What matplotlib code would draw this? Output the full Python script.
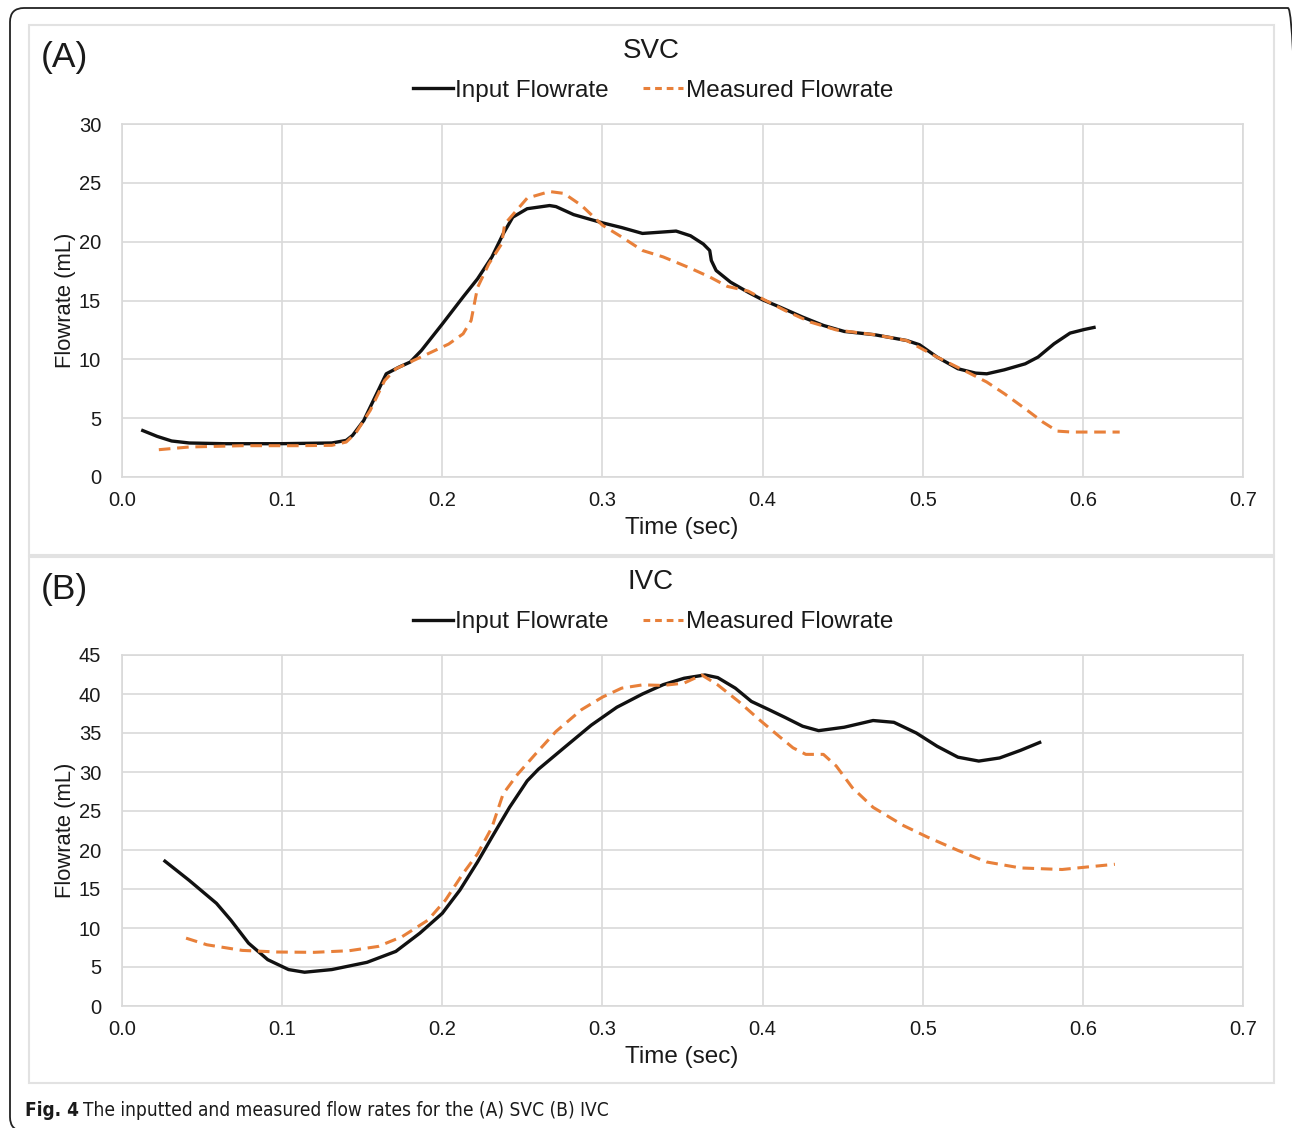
import matplotlib
matplotlib.use("Agg")
import matplotlib.pyplot as plt
from matplotlib.patches import FancyBboxPatch, Rectangle
from matplotlib.lines import Line2D
from matplotlib.transforms import IdentityTransform
from matplotlib import font_manager
from matplotlib.font_manager import FontProperties
import os

# ---------------- data ----------------
svc_input_t = [0.012, 0.022, 0.031, 0.042, 0.064, 0.098, 0.131, 0.140, 0.144, 0.151, 0.158, 0.165,
               0.173, 0.180, 0.187, 0.200, 0.213, 0.222, 0.231, 0.238, 0.244, 0.253, 0.267, 0.271,
               0.282, 0.300, 0.312, 0.325, 0.346, 0.355, 0.363, 0.367, 0.368, 0.371, 0.380, 0.391,
               0.400, 0.411, 0.425, 0.438, 0.451, 0.470, 0.490, 0.498, 0.509, 0.522, 0.533, 0.540,
               0.551, 0.564, 0.572, 0.582, 0.592, 0.601, 0.608]
svc_input_q = [4.0, 3.45, 3.06, 2.89, 2.83, 2.83, 2.89, 3.11, 3.54, 4.81, 6.79, 8.77,
               9.34, 9.77, 10.76, 13.0, 15.3, 16.84, 18.7, 20.66, 22.08, 22.8, 23.07, 22.98,
               22.3, 21.6, 21.2, 20.7, 20.9, 20.5, 19.8, 19.25, 18.4, 17.55, 16.56, 15.7,
               15.06, 14.43, 13.59, 12.88, 12.37, 12.09, 11.6, 11.24, 10.19, 9.2, 8.83, 8.77,
               9.11, 9.62, 10.19, 11.32, 12.23, 12.54, 12.74]

svc_meas_t = [0.023, 0.042, 0.075, 0.109, 0.131, 0.140, 0.146, 0.155, 0.164, 0.171, 0.180, 0.191,
              0.204, 0.213, 0.218, 0.222, 0.229, 0.237, 0.239, 0.246, 0.253, 0.267, 0.276, 0.287,
              0.300, 0.312, 0.325, 0.338, 0.354, 0.367, 0.378, 0.391, 0.400, 0.414, 0.430, 0.446,
              0.470, 0.490, 0.509, 0.530, 0.540, 0.551, 0.564, 0.575, 0.584, 0.593, 0.623]
svc_meas_q = [2.32, 2.55, 2.66, 2.66, 2.69, 2.97, 3.74, 5.66, 8.2, 9.2, 9.77, 10.47,
              11.3, 12.17, 13.3, 16.1, 18.1, 19.8, 21.5, 22.6, 23.7, 24.26, 24.1, 23.07,
              21.4, 20.4, 19.25, 18.7, 17.8, 17.0, 16.2, 15.8, 15.14, 14.15, 13.16, 12.5,
              12.09, 11.6, 10.19, 8.77, 8.07, 7.08, 5.8, 4.67, 3.9, 3.82, 3.82]

ivc_input_t = [0.026, 0.042, 0.059, 0.068, 0.079, 0.091, 0.104, 0.114, 0.131, 0.153, 0.171, 0.186,
               0.200, 0.211, 0.222, 0.231, 0.242, 0.253, 0.260, 0.276, 0.293, 0.309, 0.325, 0.338,
               0.351, 0.364, 0.372, 0.383, 0.393, 0.404, 0.414, 0.425, 0.435, 0.451, 0.469, 0.482,
               0.496, 0.509, 0.522, 0.535, 0.548, 0.561, 0.574]
ivc_input_q = [18.7, 16.1, 13.16, 11.0, 8.06, 5.94, 4.67, 4.33, 4.67, 5.6, 7.0, 9.34,
               11.88, 14.86, 18.46, 21.65, 25.47, 28.86, 30.35, 33.1, 36.0, 38.3, 40.0, 41.2,
               42.02, 42.44, 42.1, 40.75, 39.05, 37.99, 37.0, 35.87, 35.3, 35.74, 36.6, 36.37,
               35.0, 33.3, 31.9, 31.4, 31.8, 32.77, 33.87]

ivc_meas_t = [0.040, 0.053, 0.075, 0.097, 0.120, 0.142, 0.160, 0.175, 0.191, 0.202, 0.213, 0.222,
              0.231, 0.238, 0.247, 0.258, 0.271, 0.287, 0.300, 0.312, 0.325, 0.338, 0.351, 0.362,
              0.372, 0.385, 0.398, 0.409, 0.419, 0.427, 0.438, 0.446, 0.456, 0.469, 0.488, 0.503,
              0.522, 0.540, 0.561, 0.587, 0.603, 0.620]
ivc_meas_q = [8.7, 7.85, 7.13, 6.92, 6.88, 7.09, 7.64, 8.9, 11.0, 13.58, 17.0, 19.5,
              22.9, 27.2, 29.7, 32.26, 35.2, 38.0, 39.6, 40.75, 41.17, 41.1, 41.4, 42.44,
              41.17, 39.05, 36.7, 34.8, 33.1, 32.26, 32.26, 30.77, 28.0, 25.47, 23.13, 21.65,
              19.95, 18.46, 17.7, 17.5, 17.83, 18.17]

x_ticks = [0.0, 0.1, 0.2, 0.3, 0.4, 0.5, 0.6, 0.7]
svc_yticks = [0, 5, 10, 15, 20, 25, 30]
ivc_yticks = [0, 5, 10, 15, 20, 25, 30, 35, 40, 45]
series_labels = ["Input Flowrate", "Measured Flowrate"]
caption_bold = "Fig. 4"
caption_text = "The inputted and measured flow rates for the (A) SVC (B) IVC"

# ---------------- style ----------------
W, H = 1292, 1128
plt.rcParams['font.family'] = ['Liberation Sans', 'DejaVu Sans']
BLACK = '#111111'
ORANGE = '#E8803A'
GRID = '#d9d9d9'
TXT = '#1a1a1a'

fig = plt.figure(figsize=(W / 100, H / 100), dpi=100)

def px_rect(x0, y0, x1, y1):
    return [x0 / W, 1 - y1 / H, (x1 - x0) / W, (y1 - y0) / H]

# outer rounded border (right/bottom edges fall just outside the image)
outer = FancyBboxPatch((10, H - 1131), 1292, 1123,
                       boxstyle="round,pad=0,rounding_size=14",
                       transform=IdentityTransform(), fill=False,
                       edgecolor='#222222', linewidth=1.3, zorder=0)
fig.patches.append(outer)

# panel frames
for (y0, y1) in [(25, 555), (557, 1083)]:
    r = Rectangle((29 / W, 1 - y1 / H), (1274 - 29) / W, (y1 - y0) / H,
                  transform=fig.transFigure, fill=False, edgecolor='#e2e2e2',
                  linewidth=1.5, zorder=0)
    fig.patches.append(r)

def make_panel(ax_top, ax_bot, tin, qin, tme, qme, yticks, title, letter,
               letter_y, title_y, legend_y, xlabel_y):
    ax = fig.add_axes(px_rect(122, ax_top, 1243, ax_bot))
    ax.plot(tin, qin, color=BLACK, lw=2.4, solid_capstyle='butt', zorder=3)
    ax.plot(tme, qme, color=ORANGE, lw=2.2, dashes=(3.8, 2.2), zorder=4)
    ax.set_xlim(0, 0.7)
    ax.set_ylim(yticks[0], yticks[-1])
    ax.set_xticks(x_ticks)
    ax.set_xticklabels([f"{v:.1f}" for v in x_ticks])
    ax.set_yticks(yticks)
    ax.grid(True, color=GRID, lw=1.2)
    ax.set_axisbelow(True)
    for s in ax.spines.values():
        s.set_color(GRID)
        s.set_linewidth(1.2)
    ax.tick_params(axis='y', length=0, labelsize=14.5, colors=TXT, pad=15)
    ax.tick_params(axis='x', length=0, labelsize=14.5, colors=TXT, pad=10)
    ax.set_ylabel("Flowrate (mL)", fontsize=15.8, color=TXT, labelpad=2)
    fig.text(682 / W, 1 - xlabel_y / H, "Time (sec)", ha='center', va='center',
             fontsize=17.5, color=TXT)
    fig.text(41 / W, 1 - letter_y / H, letter, ha='left', va='center',
             fontsize=25.5, color=TXT)
    fig.text(651 / W, 1 - title_y / H, title, ha='center', va='center',
             fontsize=20, color=TXT)
    handles = [Line2D([], [], color=BLACK, lw=2.4),
               Line2D([], [], color=ORANGE, lw=2.2, dashes=(2.2, 1.6))]
    fig.legend(handles, series_labels, loc='center',
               bbox_to_anchor=(653 / W, 1 - legend_y / H), ncol=2, frameon=False,
               fontsize=17.5, handlelength=1.65, handletextpad=0.1,
               columnspacing=1.4, labelcolor=TXT)
    return ax

make_panel(124, 477, svc_input_t, svc_input_q, svc_meas_t, svc_meas_q,
           svc_yticks, "SVC", "(A)", 57, 51, 91, 528)
make_panel(655, 1006, ivc_input_t, ivc_input_q, ivc_meas_t, ivc_meas_q,
           ivc_yticks, "IVC", "(B)", 589, 582, 622, 1057)

# caption font: prefer a condensed / narrow sans, if installed
def find_font(patterns):
    for pat in patterns:
        for f in font_manager.fontManager.ttflist:
            if os.path.basename(f.fname).lower() == pat.lower():
                return f.fname
    return None

reg = find_font(['LiberationSansNarrow-Regular.ttf', 'DejaVuSansCondensed.ttf'])
bold = find_font(['LiberationSansNarrow-Bold.ttf', 'DejaVuSansCondensed-Bold.ttf'])
if reg and bold:
    fp_reg = FontProperties(fname=reg)
    fp_bold = FontProperties(fname=bold)
else:
    fp_reg = FontProperties(family='Open Sans')
    fp_bold = FontProperties(family='Open Sans', weight='bold')

cap_y = 1 - 1111 / H
size = 13.0
t1 = fig.text(25 / W, cap_y, caption_bold, ha='left', va='center',
              fontproperties=fp_bold, color=TXT)
t2 = fig.text(0, cap_y, caption_text, ha='left', va='center',
              fontproperties=fp_reg, color=TXT)
target = 607 - 25
for _ in range(3):
    t1.set_fontsize(size)
    t2.set_fontsize(size)
    fig.canvas.draw()
    b1 = t1.get_window_extent()
    t2.set_x((b1.x1 + 0.3 * size) / W)
    fig.canvas.draw()
    b2 = t2.get_window_extent()
    width = b2.x1 - b1.x0
    size = size * target / width
t1.set_fontsize(size)
t2.set_fontsize(size)
fig.canvas.draw()
b1 = t1.get_window_extent()
t2.set_x((b1.x1 + 0.3 * size) / W)

fig.savefig("out.png", dpi=100)
